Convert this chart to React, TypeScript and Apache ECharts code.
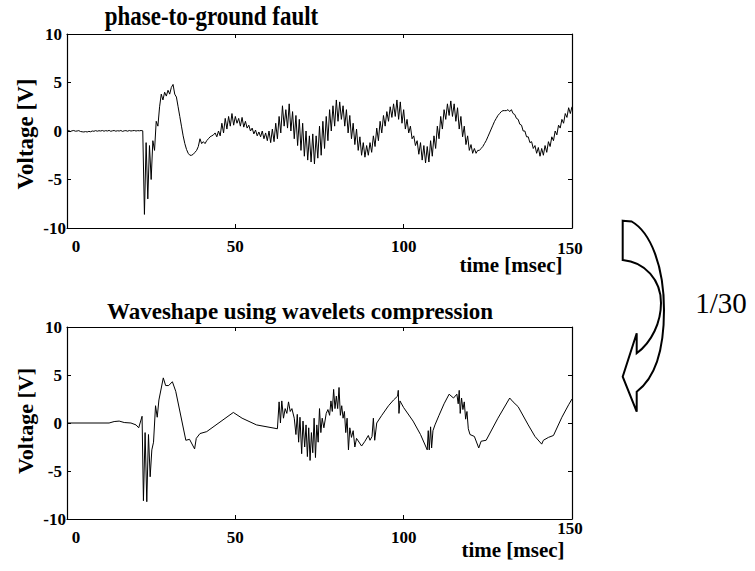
import React, { useEffect, useRef } from "react";
import * as echarts from "echarts";

// ---- data ----
const xTicks = [0, 50, 100, 150];
const yTicks = [-10, -5, 0, 5, 10];
const sampleStep = 0.5; // ms between samples of the original record

// original phase-to-ground fault record (one value every 0.5 ms, 0..150 ms)
const faultValues = [
  0, 0.05, -0.05, 0.02, 0.05, -0.02, 0, 0.04, -0.05, -0.08,
  -0.1, -0.06, -0.1, -0.04, -0.08, 0, -0.03, 0.04, -0.02, 0.03,
  0, 0.05, -0.02, 0.04, 0, 0.06, -0.03, 0.02, 0.05, -0.02,
  0.03, 0, 0.05, -0.04, 0.02, 0.04, -0.02, 0.05, 0, 0.03,
  0.05, 0, 0.04, 0.02, 0.05, 0.02, -8.6, -1.2, -7, -1.5,
  -5, -1, -2, 1, 0.5, 2.5, 3.8, 3.2, 4.0, 3.6,
  4.2, 3.8, 4.5, 4.8, 3.8, 3.5, 2.5, 1.5, 0.5, -0.5,
  -1.3, -1.9, -2.3, -2.5, -2.5, -2.4, -2.2, -2, -1.6, -0.8,
  -1.3, -1.1, -1.3, -1, -0.8, -0.6, -0.5, -0.4, -0.2, -0.6,
  0, -0.5, 0.8, -0.2, 1.3, 0.2, 1.5, 0.5, 1.8, 0.6,
  1.5, 0.8, 1.3, 0.5, 1.4, 0.4, 1, 0.3, 0.6, 0,
  0.3, -0.3, 0.1, -0.5, -0.1, -0.6, 0, -0.8, -0.2, -1,
  0, -1.2, 0.2, -1.1, 0.8, -0.8, 1.5, -0.2, 2.6, 0.5,
  2.2, 0.3, 2.8, 0, 2, -0.8, 1.6, -1.5, 1.2, -2,
  0.8, -2.6, 0, -3, -0.5, -3.2, -0.3, -3.4, -0.5, -2.8,
  0.5, -2.5, 1, -1.8, 1.5, -1, 2.2, 0, 2.6, 0.5,
  3.2, 1, 3, 1.2, 2.6, 0.5, 2.2, -0.2, 1.6, -0.8,
  0.8, -1.4, 0.2, -2, -0.6, -2.5, -1.2, -2.7, -1.5, -2.5,
  -1.2, -2.2, -0.5, -1.6, 0.3, -1, 1, -0.2, 1.6, 0.5,
  2, 1, 2.5, 1.4, 2.8, 1.5, 3.2, 1.2, 3, 0.8,
  2.2, 0.2, 1.2, -0.2, 0.5, -0.8, -0.5, -1.5, -1, -2.4,
  -1.2, -3, -1.5, -3.3, -1.6, -3.2, -1, -2.6, -0.5, -1.8,
  0.5, -0.8, 1.5, 0.2, 2.2, 1.2, 2.8, 1.6, 3.1, 1.5,
  2.8, 1, 2.4, 0.2, 1.5, -0.6, 0.5, -1.4, -0.5, -2,
  -1.4, -2.3, -1.8, -2.3, -2, -2, -1.8, -1.6, -1.3, -1,
  -0.6, -0.2, 0.2, 0.6, 1, 1.3, 1.6, 1.8, 2, 2.1,
  2.1, 2.1, 2.2, 2, 2.2, 1.8, 1.7, 1.3, 1.2, 0.7,
  0.6, 0, 0, -0.6, -0.6, -1.2, -1.1, -1.8, -1.5, -2.3,
  -1.7, -2.6, -1.8, -2.5, -1.5, -2.2, -1.1, -1.6, -0.6, -1,
  0, -0.4, 0.6, 0.3, 1.2, 0.8, 1.8, 1.4, 2.4, 1.8,
  2.5,
];

// compressed (wavelet) reconstruction: breakpoints
const compTimes = [
  0, 12.5, 14, 15.5, 17, 19, 20.5, 21.3, 22.3, 22.7,
  23.2, 23.7, 24.2, 24.7, 25.2, 25.7, 26.3, 26.8, 27.3, 28.6,
  29.3, 30.2, 31.3, 32.3, 35.3, 36.4, 37.9, 38.4, 39.5, 41.5,
  49.4, 52, 56.3, 62.5, 63, 63.4, 63.8, 64.3, 64.8, 65.3,
  65.8, 66.3, 66.8, 67.5, 68, 68.4, 68.8, 69.2, 69.7, 70.1,
  70.6, 71, 71.4, 71.8, 72.2, 72.6, 73, 73.4, 73.8, 74.2,
  74.6, 75, 75.4, 75.8, 76.3, 77, 77.5, 78, 78.4, 78.8,
  79.2, 79.6, 80, 80.4, 80.8, 81.2, 81.6, 82, 82.4, 82.8,
  83.2, 83.6, 84, 84.5, 85, 85.5, 86, 87.5, 88.5, 89.5,
  90, 90.6, 91, 91.4, 92, 93.5, 95.5, 97, 98.2, 98.4,
  98.6, 98.9, 100, 102.8, 105, 107, 107.3, 107.6, 108, 108.3,
  108.7, 109.3, 110.5, 112, 113.5, 114.8, 115.8, 116.2, 116.5, 116.8,
  117.2, 117.6, 118, 118.4, 118.8, 119.2, 119.7, 121, 122.3, 123,
  124.5, 128, 131.5, 132.5, 134, 137, 139, 141, 141.5, 143,
  144.5, 147, 149, 150,
];
const compValues = [
  0, 0, 0.15, 0.2, 0.05, 0, -0.2, -0.5, 0.7, -8.1,
  -1, -8.2, -1.2, -5.6, -2.8, -2, 1.8, 0.6, 2.4, 4.7,
  3.9, 3.9, 4.3, 3.3, -1.8, -1.7, -2.7, -1.6, -1.1, -0.9,
  1.1, 0.5, -0.2, -0.6, 2.2, 0, 2.3, 0.5, 1.5, 1.0,
  2.2, 1.2, 1.5, 0.5, -1.2, 0.9, -2, 0.6, -3.2, 0.2,
  -2.5, -0.2, -3.5, -0.5, -3.9, -1, -3.1, 0.5, -3.6, -0.2,
  -2, 1.5, -1, 0.5, -0.5, 1, 1.4, 0.8, 2.3, 1.2,
  3.5, 1.5, 2.8, 1.5, 3.7, 0.8, 1.8, 0.5, 1.2, -1,
  0.5, -2.8, -0.5, -1.5, -0.8, -2.5, -1.6, -2.4, -1.9, -1.3,
  -1.8, -1.4, 0.5, -1.8, 0, 0.8, 1.8, 2.4, 2.8, 3.4,
  1, 2.3, 1.6, 0.2, -1.2, -2.8, -0.8, -2.8, -0.4, -2.6,
  -0.8, -0.2, 0.8, 2, 3, 2.6, 3, 2, 3.4, 1,
  2.6, 1.4, 2.2, 0.4, 1.2, -0.6, -1.2, -1.4, -2.6, -1.9,
  -1.8, 0.5, 2.6, 2.2, 1.7, -0.2, -1.4, -2.2, -1.8, -1.5,
  -1.3, 0.6, 1.9, 2.5,
];

const titleTop = "phase-to-ground fault";
const titleBottom = "Waveshape using wavelets compression";
const yName = "Voltage [V]";
const xName = "time [msec]";
const ratioText = "1/30";

const SERIF = "'Liberation Serif', 'Times New Roman', serif";
const ARROW_D =
  "M622.7,220.7 L631.7,221.5 C650,232 664,265 664,310 C664,350 655,378 636.7,391.7 L636.7,411.7 L622.7,376.7 L636.7,333.3 L636.7,353.3 C652,342 661,322 661,303 C661,280 645,262 622.7,260 Z";

let arrowRegistered = false;

export default function App() {
  const ref = useRef<HTMLDivElement>(null);
  useEffect(() => {
    if (!ref.current) return;
    if (!arrowRegistered) {
      echarts.graphic.registerShape("bentArrow", echarts.graphic.extendPath(ARROW_D, {}));
      arrowRegistered = true;
    }
    const chart = echarts.init(ref.current, undefined, { renderer: "svg" });

    const labelStyle = { fontSize: 17, fontWeight: "bold", fontFamily: SERIF, color: "#000" };
    const lineAxis = { show: true, onZero: false, lineStyle: { color: "#000", width: 1.2 } };
    const tickIn = { show: true, inside: true, length: 4, lineStyle: { color: "#000", width: 1 } };

    const makeX = (grid: number, pos: "bottom" | "top", labels: boolean) => ({
      type: "value",
      gridIndex: grid,
      position: pos,
      min: 0,
      max: 150,
      interval: 50,
      axisLine: lineAxis,
      axisTick: tickIn,
      splitLine: { show: false },
      axisLabel: labels
        ? {
            show: true,
            margin: 10,
            formatter: (v: number) => (v === xTicks[0] ? "{z|0}" : v === xTicks[3] ? "" : "{p|" + v + "}"),
            rich: { z: { ...labelStyle, padding: [0, 0, 0, 18] }, p: { ...labelStyle } },
          }
        : { show: false },
    });
    const makeY = (grid: number, pos: "left" | "right", labels: boolean) => ({
      type: "value",
      gridIndex: grid,
      position: pos,
      min: yTicks[0],
      max: yTicks[yTicks.length - 1],
      interval: 5,
      axisLine: lineAxis,
      axisTick: tickIn,
      splitLine: { show: false },
      axisLabel: labels
        ? {
            show: true,
            margin: 1,
            formatter: (v: number) => (v === yTicks[0] ? "{n|" + v + "}" : "{p|" + v + "}"),
            rich: { n: { ...labelStyle }, p: { ...labelStyle, padding: [0, 4, 0, 0] } },
          }
        : { show: false },
    });

    const txt = (text: string, x: number, y: number, size: number, bold: boolean, extra: any = {}) => ({
      type: "text",
      x,
      y,
      ...extra,
      style: {
        text,
        fill: "#000",
        font: `${bold ? "bold " : ""}${size}px ${SERIF}`,
        textAlign: "center",
        textVerticalAlign: "middle",
        align: "center",
        verticalAlign: "middle",
      },
    });

    chart.setOption({
      animation: false,
      backgroundColor: "#fff",
      grid: [
        { left: 67, top: 34, width: 505, height: 194 },
        { left: 67, top: 327, width: 505, height: 192 },
      ],
      xAxis: [makeX(0, "bottom", true), makeX(0, "top", false), makeX(1, "bottom", true), makeX(1, "top", false)],
      yAxis: [makeY(0, "left", true), makeY(0, "right", false), makeY(1, "left", true), makeY(1, "right", false)],
      series: [
        {
          type: "line",
          xAxisIndex: 0,
          yAxisIndex: 0,
          data: faultValues.map((v, i) => [i * sampleStep, v]),
          showSymbol: false,
          symbol: "none",
          lineStyle: { color: "#000", width: 1 },
        },
        {
          type: "line",
          xAxisIndex: 2,
          yAxisIndex: 2,
          data: compTimes.map((t, i) => [t, compValues[i]]),
          showSymbol: false,
          symbol: "none",
          lineStyle: { color: "#000", width: 1 },
        },
      ],
      graphic: [
        txt(titleTop, 211.5, 19, 23, true, { scaleY: 1.15, originX: 211.5, originY: 19 }),
        txt(titleBottom, 300, 311, 23, true),
        txt(yName, 25, 134, 23, true, { rotation: Math.PI / 2 }),
        txt(yName, 25, 421, 22, true, { rotation: Math.PI / 2 }),
        txt(xName, 511, 265, 21, true),
        txt(xName, 513, 550, 21, true),
        txt(String(xTicks[3]), 570, 248, 17, true),
        txt(String(xTicks[3]), 570, 528, 17, true),
        {
          type: "bentArrow",
          x: 0,
          y: 0,
          style: { fill: "#fff", stroke: "#000", lineWidth: 2 },
        },
        txt(ratioText, 721, 303, 29, false),
      ],
    });
    return () => chart.dispose();
  }, []);
  return (
    <div
      ref={ref}
      style={{ position: "fixed", left: 0, top: 0, width: 755, height: 571, background: "#fff" }}
    />
  );
}
